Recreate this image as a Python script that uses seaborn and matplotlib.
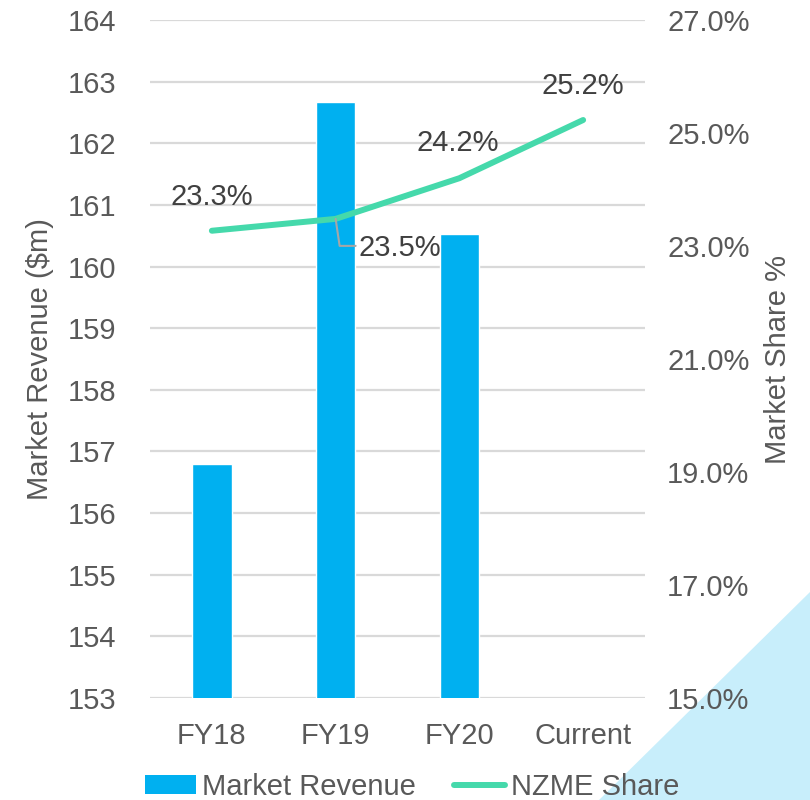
import numpy as np
import pandas as pd
import matplotlib
matplotlib.use("Agg")
import matplotlib.pyplot as plt
from matplotlib.patches import Patch, Polygon
from matplotlib.lines import Line2D
import seaborn as sns

categories = ["FY18", "FY19", "FY20", "Current"]
revenue = [156.8, 162.67, 160.53, np.nan]
share = [23.27, 23.48, 24.2, 25.23]
share_labels = ["23.3%", "23.5%", "24.2%", "25.2%"]
left_ticks = [153, 154, 155, 156, 157, 158, 159, 160, 161, 162, 163, 164]
right_ticks = [15.0, 17.0, 19.0, 21.0, 23.0, 25.0, 27.0]

sns.set_style("white")
plt.rcParams["font.family"] = ["Liberation Sans", "DejaVu Sans"]
FS = 21
TXT = "#595959"
BAR = "#00B0F0"
LINE = "#45D9AB"

fig = plt.figure(figsize=(8.1, 8.0), dpi=100)
# background decoration triangle
tri = Polygon([(810/810, 1-592/800), (599/810, 0), (1, 0)], closed=True,
              transform=fig.transFigure, facecolor="#C8EEFB", edgecolor="none", zorder=-5)
fig.patches.append(tri)

ax = fig.add_axes([150/810, 1-698/800, 495/810, 678/800])
ax.set_facecolor("none")
df = pd.DataFrame({"cat": categories, "rev": revenue})
sns.barplot(data=df, x="cat", y="rev", order=categories, color=BAR, width=0.32,
            saturation=1, ax=ax, zorder=3)
ax.set_ylim(153, 164)
ax.set_xlim(-0.5, 3.5)
ax.set_yticks(left_ticks)
ax.grid(axis="y", color="#D9D9D9", lw=1.6, zorder=0)
ax.set_axisbelow(True)
for s in ax.spines.values():
    s.set_visible(False)
ax.tick_params(axis="y", length=0, pad=24, labelsize=FS, labelcolor=TXT)
ax.tick_params(axis="x", length=0, pad=17, labelsize=FS, labelcolor=TXT)
ax.set_xlabel("")
ax.set_ylabel("Market Revenue ($m)", fontsize=FS, color=TXT, labelpad=10)

ax2 = ax.twinx()
ax2.set_facecolor("none")
ldf = pd.DataFrame({"pos": np.arange(len(categories)), "share": share})
sns.lineplot(data=ldf, x="pos", y="share", color=LINE, lw=4.3, ax=ax2, zorder=4)
ax2.set_ylim(15, 27)
ax2.set_xlim(-0.5, 3.5)
ax2.set_yticks(right_ticks)
ax2.set_yticklabels([f"{v:.1f}%" for v in right_ticks])
for s in ax2.spines.values():
    s.set_visible(False)
ax2.tick_params(axis="y", length=0, pad=16, labelsize=FS, labelcolor=TXT)
ax2.set_ylabel("Market Share %", fontsize=FS, color=TXT, labelpad=10)
ax2.grid(False)

offsets = [(0, 34), (64, -29), (-2, 35), (0, 34)]
for i, (lab, (dx, dy)) in enumerate(zip(share_labels, offsets)):
    ax2.annotate(lab, xy=(i, share[i]), xytext=(dx*0.72, dy*0.72),
                 textcoords="offset points", ha="center", va="center",
                 fontsize=FS, color="#404040", zorder=6)
    if i == 1:
        # leader line
        x0, y0 = ax2.transData.transform((i, share[i]))
        pts = [(x0, y0), (x0 + 4, y0 - 27), (x0 + 20, y0 - 27)]
        inv = fig.transFigure.inverted()
        fp = [inv.transform(p) for p in pts]
        fig.add_artist(Line2D([p[0] for p in fp], [p[1] for p in fp],
                              transform=fig.transFigure, color="#A6A6A6", lw=1.5, zorder=5))

handles = [Patch(facecolor=BAR, edgecolor="none"), Line2D([], [], color=LINE, lw=4.3)]
fig.legend(handles, ["Market Revenue", "NZME Share"], loc="center",
           bbox_to_anchor=(412/810, 1-787/800), ncol=2, frameon=False, fontsize=FS,
           labelcolor=TXT, handlelength=1.75, handletextpad=0.2, columnspacing=1.3,
           handleheight=0.6)

fig.savefig("out.png", dpi=100)
